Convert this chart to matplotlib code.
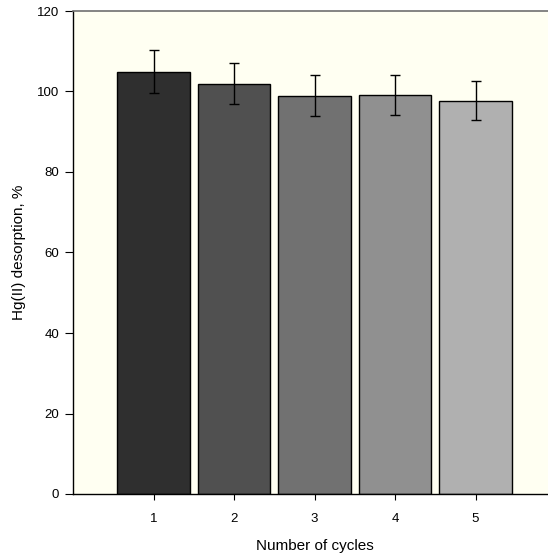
import matplotlib
matplotlib.use("Agg")
import matplotlib.pyplot as plt

# data
cycles = [1, 2, 3, 4, 5]
desorption = [104.9, 101.9, 99.0, 99.2, 97.7]
errors = [5.3, 5.1, 5.0, 5.0, 4.9]
bar_colors = ["#2f2f2f", "#505050", "#717171", "#909090", "#b0b0b0"]

plt.rcParams["font.family"] = ["Liberation Sans", "DejaVu Sans"]

fig = plt.figure(figsize=(5.48, 5.6), dpi=100)
ax = fig.add_axes([73 / 548, 66 / 560, 483 / 548, 483 / 560])
ax.set_facecolor("#fffff2")

ax.bar(cycles, desorption, width=0.9, color=bar_colors,
       edgecolor="black", linewidth=1.0, zorder=2)
ax.errorbar(cycles, desorption, yerr=errors, fmt="none",
            ecolor="black", elinewidth=1.0, capsize=3.4, capthick=1.0, zorder=3)

ax.set_xlim(0, 6)
ax.set_ylim(0, 120)
ax.set_xticks(cycles)
ax.set_yticks(range(0, 121, 20))
ax.tick_params(axis="both", direction="out", labelsize=9.5, width=0.8)
ax.tick_params(axis="y", length=6, pad=4)
ax.tick_params(axis="x", length=4, pad=10)

ax.spines["right"].set_visible(False)
ax.spines["top"].set_color("#707070")
ax.spines["top"].set_linewidth(1.2)
ax.spines["left"].set_linewidth(1.0)
ax.spines["bottom"].set_linewidth(1.0)

ax.set_xlabel("Number of cycles", fontsize=11, labelpad=10)
ax.set_ylabel("Hg(II) desorption, %", fontsize=11, labelpad=8)

plt.savefig("out.png", dpi=100)
